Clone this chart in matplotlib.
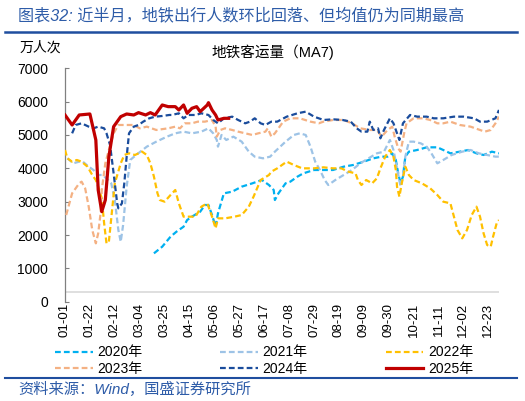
import matplotlib
matplotlib.use("Agg")
import matplotlib.pyplot as plt
from matplotlib.lines import Line2D

plt.rcParams['font.family'] = ['Liberation Sans', 'Noto Sans CJK SC', 'DejaVu Sans']

# ---------------- data (x = day offset from 01-01, y = 万人次) ----------------
tick_labels = ["01-01", "01-22", "02-12", "03-04", "03-25", "04-15", "05-06", "05-27",
               "06-17", "07-08", "07-29", "08-19", "09-09", "09-30", "10-21", "11-11",
               "12-02", "12-23"]
tick_days = [0, 21, 42, 63, 84, 105, 126, 147, 168, 189, 210, 231, 252, 273, 294, 315, 336, 357]

d2020 = [75, 82, 89, 94, 100, 103, 107, 114, 118, 121, 124, 127, 129, 134, 141, 149, 158, 166,
         172, 176, 177, 180, 186, 190, 196, 201, 210, 218, 226, 235, 243, 252, 260, 267, 272,
         276, 279, 281, 283, 285, 287, 290, 297, 305, 314, 319, 325, 333, 340, 347, 353, 360, 366]
v2020 = [1450, 1650, 1950, 2100, 2250, 2450, 2550, 2700, 2900, 2900, 2600, 2250, 2650, 3250,
         3300, 3450, 3550, 3650, 3500, 3350, 3050, 3250, 3550, 3600, 3750, 3850, 3950, 3950,
         3950, 4050, 4100, 4200, 4300, 4350, 4350, 4450, 4250, 3850, 3550, 3750, 4350, 4500,
         4550, 4630, 4630, 4550, 4450, 4500, 4550, 4450, 4400, 4500, 4450]

d2021 = [2, 7, 12, 15, 20, 24, 28, 31, 35, 39, 42, 45, 47, 49, 52, 55, 60, 69, 77, 86, 93, 100,
         107, 115, 121, 125, 128, 129, 132, 136, 142, 149, 155, 160, 167, 173, 177, 186, 193,
         198, 203, 207, 211, 215, 219, 222, 228, 235, 242, 249, 256, 263, 269, 274, 277, 280,
         283, 285, 287, 290, 294, 300, 305, 309, 314, 319, 326, 335, 342, 349, 356, 363, 366]
v2021 = [4300, 4150, 4200, 4200, 4050, 3950, 3800, 3800, 3700, 3550, 3050, 2150, 1800, 2300,
         3450, 4250, 4400, 4650, 4800, 4950, 5050, 5100, 5050, 5100, 5200, 5050, 4850, 4650,
         5000, 4850, 4950, 4800, 4500, 4350, 4300, 4350, 4500, 4800, 5000, 5050, 5000, 4650,
         4200, 3950, 3650, 3500, 3650, 3800, 3950, 4150, 4300, 4450, 4500, 4850, 4550, 4000,
         3450, 3750, 4350, 4800, 4800, 4750, 4650, 4450, 4150, 4250, 4400, 4500, 4550, 4450,
         4400, 4350, 4350]

d2022 = [0, 2, 6, 10, 14, 19, 23, 26, 28, 31, 33, 35, 37, 40, 42, 47, 50, 54, 59, 65, 69, 72,
         75, 78, 80, 84, 89, 93, 96, 100, 104, 110, 115, 120, 124, 127, 129, 135, 143, 149,
         155, 159, 165, 172, 174, 179, 187, 193, 200, 210, 218, 226, 233, 239, 245, 247, 250,
         254, 259, 263, 266, 270, 274, 277, 279, 280, 282, 284, 287, 290, 294, 301, 308, 314,
         319, 325, 328, 331, 335, 339, 343, 347, 350, 353, 356, 359, 361, 364, 366]
v2022 = [4550, 4300, 4200, 4250, 4200, 4050, 3800, 3650, 3450, 3100, 2350, 1750, 1800, 2850,
         3550, 4150, 4400, 4450, 4400, 4500, 4400, 4150, 3750, 3250, 3050, 3000, 3200, 3350,
         2950, 2550, 2550, 2550, 2850, 2950, 2550, 2200, 2500, 2500, 2550, 2600, 2850, 3150,
         3650, 3800, 3900, 4000, 4200, 4100, 4000, 4000, 4030, 4000, 4000, 3900, 3850, 3650,
         3500, 3650, 3550, 3700, 4000, 4350, 4550, 4350, 3950, 3450, 3150, 3550, 4050, 3800,
         3650, 3550, 3400, 3200, 3000, 2950, 2550, 2150, 1900, 2150, 2600, 2850, 2550, 2050,
         1700, 1650, 1950, 2350, 2450]

d2023 = [1, 6, 12, 14, 17, 20, 23, 26, 28, 30, 31, 34, 37, 41, 45, 49, 58, 63, 69, 77, 87, 93,
         97, 101, 107, 112, 118, 124, 127, 128, 131, 135, 141, 146, 152, 158, 163, 169, 171,
         174, 177, 180, 184, 190, 198, 207, 214, 218, 226, 235, 242, 249, 257, 263, 267, 272,
         276, 278, 281, 283, 286, 288, 294, 302, 308, 314, 319, 325, 333, 342, 350, 354, 359,
         363, 366]
v2023 = [2600, 3250, 3550, 3600, 3400, 2850, 2150, 1750, 2050, 2650, 3350, 4150, 4550, 5050,
         5300, 5300, 5300, 5200, 5250, 5150, 5200, 5250, 5200, 5350, 5350, 5400, 5400, 5450,
         5250, 4950, 5150, 5200, 5150, 5100, 5050, 5000, 5050, 5100, 5200, 4950, 5050, 5200,
         5400, 5500, 5500, 5400, 5350, 5400, 5450, 5450, 5350, 5200, 5150, 5150, 4950, 5150,
         5250, 4950, 4600, 4500, 5050, 5350, 5500, 5500, 5450, 5350, 5350, 5400, 5300, 5250,
         5150, 5100, 5150, 5350, 5550]

d2024 = [6, 9, 14, 20, 24, 28, 33, 35, 38, 41, 44, 45, 48, 50, 52, 54, 58, 62, 66, 71, 76, 82,
         88, 90, 96, 100, 104, 110, 115, 121, 125, 129, 134, 141, 146, 152, 156, 160, 165, 169,
         174, 179, 187, 196, 203, 210, 218, 226, 234, 241, 246, 250, 255, 257, 260, 264, 266,
         269, 274, 277, 280, 282, 285, 291, 297, 305, 311, 319, 328, 336, 345, 350, 356, 363,
         366]
v2024 = [5050, 5300, 5350, 5250, 5200, 5250, 5200, 5050, 4700, 3850, 2950, 2800, 2950, 3550,
         4350, 5050, 5250, 5300, 5400, 5500, 5550, 5570, 5600, 5600, 5650, 5500, 5600, 5600,
         5650, 5600, 5450, 5350, 5500, 5550, 5450, 5350, 5400, 5500, 5350, 5300, 5400, 5400,
         5550, 5650, 5700, 5550, 5450, 5470, 5450, 5400, 5200, 5100, 5100, 5400, 5150, 5200,
         4900, 5150, 5500, 5350, 5050, 4850, 5350, 5600, 5550, 5550, 5500, 5500, 5550, 5550,
         5500, 5400, 5400, 5500, 5750]

d2025 = [0, 6, 12, 21, 26, 28, 31, 34, 37, 41, 47, 52, 58, 62, 68, 72, 76, 82, 87, 93, 96, 100,
         103, 107, 111, 114, 120, 121, 124, 127, 129, 134, 138]
v2025 = [5600, 5300, 5600, 5630, 4850, 3350, 2700, 3050, 4350, 5250, 5550, 5630, 5600, 5670,
         5600, 5670, 5600, 5900, 5850, 5850, 5750, 5900, 5650, 5800, 5850, 5700, 5900, 5970,
         5750, 5600, 5450, 5500, 5500]

series = [
    ("2020年", d2020, v2020, "#00B0F0", "--"),
    ("2021年", d2021, v2021, "#9DC3E6", "--"),
    ("2022年", d2022, v2022, "#FFC000", "--"),
    ("2023年", d2023, v2023, "#F4B183", "--"),
    ("2024年", d2024, v2024, "#1A4C9C", "--"),
    ("2025年", d2025, v2025, "#C00000", "-"),
]

# ---------------- figure ----------------
W, H = 525, 401
fig = plt.figure(figsize=(W / 100, H / 100), dpi=100)
ax = fig.add_axes([65 / W, 1 - 301.7 / H, (499 - 65) / W, (301.7 - 68.3) / H])

handles = {}
for name, d, v, c, ls in series:
    if ls == "-":
        ln, = ax.plot(d, v, color=c, lw=2.3, ls="-", zorder=5, solid_joinstyle="round")
    else:
        ln, = ax.plot(d, v, color=c, lw=1.6, zorder=3)
        ln.set_dashes((2.6, 1.4))
    handles[name] = ln

ax.set_xlim(0, 366)
ax.set_ylim(0, 7000)
ax.axhline(300, color="#D9D9D9", lw=1.2, zorder=1)
ax.set_yticks(range(0, 7001, 1000))
ax.set_xticks(tick_days)
ax.set_xticklabels(tick_labels, rotation=90, fontsize=9.5)
ax.tick_params(axis="y", direction="in", length=3, width=0.8, color="#808080",
               labelsize=10, pad=12)
ax.tick_params(axis="x", length=0, pad=1)
for s in ["top", "right", "bottom"]:
    ax.spines[s].set_visible(False)
ax.spines["left"].set_color("#808080")
ax.spines["left"].set_linewidth(0.9)

# texts
blue = "#1F4E9F"
fig.text(18 / W, 1 - 15 / H, "图表32: 近半月，地铁出行人数环比回落、但均值仍为同期最高",
         fontsize=11.6, color="#2E5CA8", style="italic", va="center", ha="left")
fig.add_artist(Line2D([5 / W, 517 / W], [1 - 32 / H, 1 - 32 / H], color=blue, lw=1.8))
fig.text(20 / W, 1 - 47.5 / H, "万人次", fontsize=10, va="center", ha="left",
         family=["Noto Sans CJK SC"])
fig.text(273 / W, 1 - 52 / H, "地铁客运量（MA7)", fontsize=10.5, va="center", ha="center")
fig.add_artist(Line2D([5 / W, 517 / W], [1 - 377.5 / H, 1 - 377.5 / H], color=blue, lw=1.5))
fig.text(18 / W, 1 - 389 / H, "资料来源：Wind，国盛证券研究所", fontsize=11,
         color="#2E5CA8", style="italic", va="center", ha="left")

order = ["2020年", "2023年", "2021年", "2024年", "2022年", "2025年"]
leg = fig.legend([handles[k] for k in order], order, ncol=3, loc="center left",
                 bbox_to_anchor=(55 / W, 1 - 360.5 / H), frameon=False, fontsize=10,
                 handlelength=2.7, handletextpad=0.35, columnspacing=5.6,
                 labelspacing=0.15, borderaxespad=0, borderpad=0)

fig.savefig("out.png", dpi=100)
